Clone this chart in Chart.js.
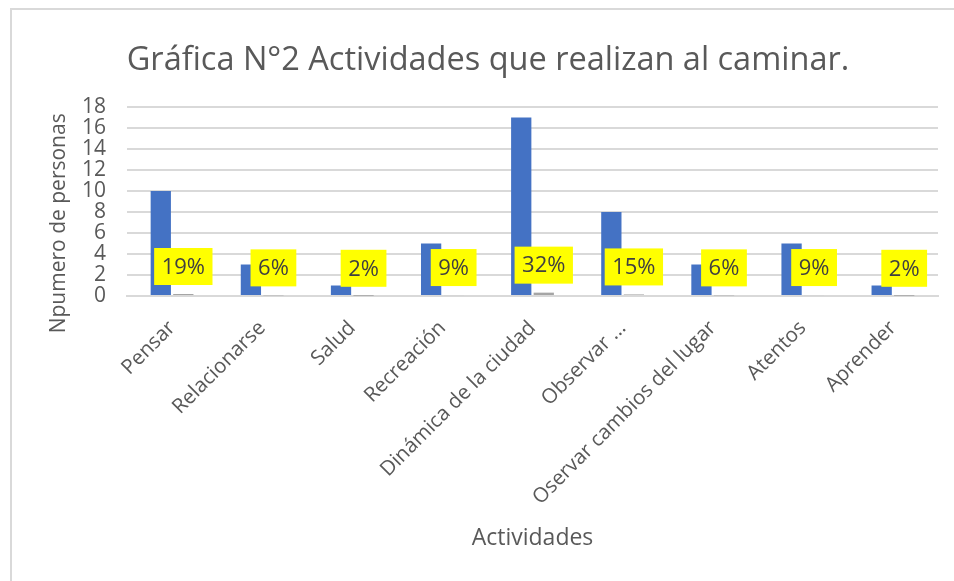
<!DOCTYPE html>
<html>
<head>
<meta charset="utf-8">
<script src="https://cdn.jsdelivr.net/npm/chart.js@4"></script>
<style>
  body { margin: 0; overflow: hidden; background: #fff; }
  #marco { position: absolute; left: 10px; top: 8px; width: 960px; height: 590px;
           border-left: 2px solid #d9d9d9; border-top: 2px solid #d9d9d9; }
  #grafica { position: absolute; left: 0; top: 0; }
</style>
</head>
<body>
<div id="marco"><canvas id="grafica" width="952" height="571"></canvas></div>
<script>
var actividades = ["Pensar", "Relacionarse", "Salud", "Recreación", "Dinámica de la ciudad",
    "Observar ...", "Oservar cambios del lugar", "Atentos", "Aprender"];
var personas = [10, 3, 1, 5, 17, 8, 3, 5, 1];
var porcentajes = [0.19, 0.06, 0.02, 0.09, 0.32, 0.15, 0.06, 0.09, 0.02];
var ticksY = [0, 2, 4, 6, 8, 10, 12, 14, 16, 18];

var fuente = '"Open Sans", sans-serif';

// etiquetas amarillas con el porcentaje
var etiquetas = {
    id: 'etiquetas',
    afterDatasetsDraw: function (chart) {
        var meta = chart.getDatasetMeta(1);
        var ctx = chart.ctx;
        ctx.save();
        ctx.font = '22px ' + fuente;
        meta.data.forEach(function (bar, i) {
            var txt = Math.round(porcentajes[i] * 100) + '%';
            var w = ctx.measureText(txt).width + 15;
            var h = 37;
            var y = bar.y - 9 - h;
            ctx.fillStyle = '#FFFF00';
            ctx.fillRect(bar.x - w / 2, y, w, h);
            ctx.fillStyle = '#404040';
            ctx.textAlign = 'center';
            ctx.textBaseline = 'middle';
            ctx.fillText(txt, bar.x, y + h / 2 + 1);
        });
        ctx.restore();
    }
};

var ctx = document.getElementById("grafica").getContext('2d');
var grafica = new Chart(ctx, {
    type: 'bar',
    data: {
        labels: actividades,
        datasets: [
            {
                label: "Personas",
                data: personas,
                backgroundColor: "#4472C4",
                categoryPercentage: 0.5,
                barPercentage: 0.9
            },
            {
                label: "Porcentaje",
                data: porcentajes,
                backgroundColor: "#A5A5A5",
                categoryPercentage: 0.5,
                barPercentage: 0.9
            }
        ]
    },
    options: {
        responsive: false,
        animation: false,
        layout: {
            padding: { left: 26, right: 26, top: 0, bottom: 13 }
        },
        plugins: {
            legend: { display: false },
            tooltip: { enabled: false },
            title: {
                display: true,
                text: 'Gráfica N°2 Actividades que realizan al caminar.',
                color: '#595959',
                font: { family: fuente, size: 32.5, weight: 'normal' },
                padding: { top: 31, bottom: 27 }
            }
        },
        scales: {
            x: {
                grid: { display: false },
                border: { display: true, color: '#d9d9d9', width: 2 },
                afterFit: function (scale) {
                    scale.paddingLeft = 0;
                    scale.paddingRight = 0;
                    scale.height = 272;
                },
                ticks: {
                    autoSkip: false,
                    minRotation: 45,
                    maxRotation: 45,
                    color: '#595959',
                    font: { family: fuente, size: 20.5 },
                    padding: 12
                },
                title: {
                    display: true,
                    text: 'Actividades',
                    color: '#595959',
                    font: { family: fuente, size: 23 },
                    padding: { top: 13, bottom: 16 }
                }
            },
            y: {
                min: 0,
                max: 18,
                afterBuildTicks: function (axis) {
                    axis.ticks = ticksY.map(function (v) { return { value: v }; });
                },
                afterFit: function (scale) {
                    scale.width = 89;
                },
                grid: { color: '#d9d9d9', lineWidth: 2, drawTicks: false },
                border: { display: false },
                ticks: {
                    autoSkip: false,
                    color: '#595959',
                    font: { family: fuente, size: 21 },
                    padding: 21
                },
                title: {
                    display: true,
                    text: 'Npumero de personas        ',
                    color: '#595959',
                    font: { family: fuente, size: 21 },
                    padding: { top: 8, bottom: 8 }
                }
            }
        }
    },
    plugins: [etiquetas]
});
</script>
</body>
</html>
